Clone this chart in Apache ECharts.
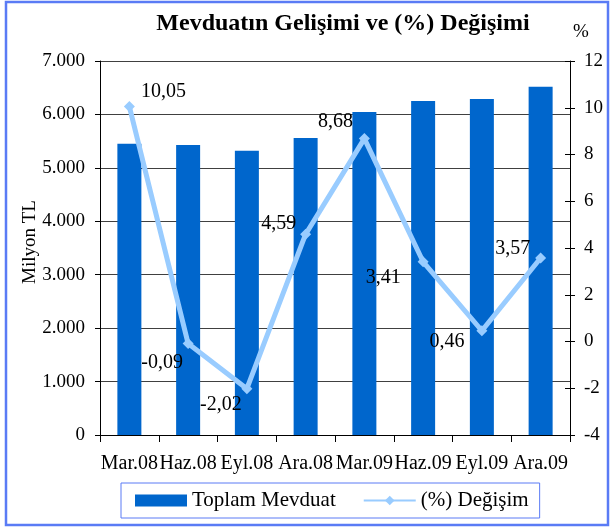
<!DOCTYPE html>
<html>
<head>
<meta charset="utf-8">
<script src="https://cdn.jsdelivr.net/npm/echarts@6/dist/echarts.min.js"></script>
<style>
html,body{margin:0;padding:0;background:#fff;}
#c{width:614px;height:528px;}
</style>
</head>
<body>
<div id="c"></div>
<script>
var categories = ['Mar.08','Haz.08','Eyl.08','Ara.08','Mar.09','Haz.09','Eyl.09','Ara.09'];
var toplamMevduat = [5450, 5430, 5320, 5560, 6045, 6250, 6290, 6520];
var degisim = [10.05, -0.09, -2.02, 4.59, 8.68, 3.41, 0.46, 3.57];
var leftTicks = {min: 0, max: 7000, interval: 1000};
var rightTicks = {min: -4, max: 12, interval: 2};

var labelOffsets = [[34,-15],[-26,19],[-26,16],[-27,-10],[-29,-17],[-40,16],[-35,11],[-28,-9]];

var FONT = '"Liberation Serif", "Times New Roman", serif';
var BORDER = '#5a7bf5';

function fmtThousands(v){
  var s = String(Math.round(v));
  return s.replace(/\B(?=(\d{3})+(?!\d))/g, '.');
}

var chart = echarts.init(document.getElementById('c'), null, {renderer:'canvas'});
var option = {
  backgroundColor: '#fff',
  animation: false,
  textStyle: {fontFamily: FONT, color: '#000'},
  title: [
    {text: 'Mevduatın Gelişimi ve (%) Değişimi', left: 338, top: 7, textAlign: 'center',
     textStyle: {fontFamily: FONT, fontWeight: 'bold', fontSize: 24, color: '#000'}},
    {text: '%', left: 576, top: 18, textAlign: 'center',
     textStyle: {fontFamily: FONT, fontWeight: 'normal', fontSize: 19, color: '#000'}}
  ],
  graphic: [
    {type: 'rect', shape: {x: 6, y: 2, width: 602, height: 523},
     style: {fill: 'none', stroke: BORDER, lineWidth: 2.5}, silent: true, z: 100}
  ],
  legend: {
    left: 121, top: 483,
    padding: [7, 11, 7, 14],
    itemGap: 27,
    itemWidth: 52, itemHeight: 12,
    borderColor: BORDER, borderWidth: 1,
    textStyle: {fontFamily: FONT, fontSize: 21, color: '#000'},
    data: [{name: 'Toplam Mevduat', icon: 'rect'}, {name: '(%) Değişim'}]
  },
  grid: {left: 100, right: 44, top: 61, bottom: 93, containLabel: false},
  xAxis: {
    type: 'category', data: categories,
    boundaryGap: true,
    axisLine: {show: true, lineStyle: {color: '#000', width: 1}},
    axisTick: {show: true, length: 7, lineStyle: {color: '#000'}},
    axisLabel: {fontFamily: FONT, fontSize: 20, color: '#000', margin: 19, interval: 0}
  },
  yAxis: [
    {type: 'value', position: 'left', min: leftTicks.min, max: leftTicks.max, interval: leftTicks.interval,
     name: 'Milyon TL', nameLocation: 'middle', nameGap: 60, nameRotate: 90, nameMoveOverlap: false,
     nameTextStyle: {fontFamily: FONT, fontSize: 19, color: '#000', padding: [0, 0, 0, 12]},
     axisLine: {show: true, lineStyle: {color: '#000'}},
     axisTick: {show: true, length: 5, lineStyle: {color: '#000'}},
     splitLine: {show: true, lineStyle: {color: '#404040', width: 1}},
     axisLabel: {fontFamily: FONT, fontSize: 19, color: '#000', margin: 15,
       formatter: function(v){ return fmtThousands(v); }}},
    {type: 'value', position: 'right', min: rightTicks.min, max: rightTicks.max, interval: rightTicks.interval,
     axisLine: {show: true, lineStyle: {color: '#000'}},
     axisTick: {show: true, length: 5, lineStyle: {color: '#000'}},
     splitLine: {show: false},
     axisLabel: {fontFamily: FONT, fontSize: 19, color: '#000', margin: 14}},
    {type: 'value', position: 'right', min: rightTicks.min, max: rightTicks.max, interval: rightTicks.interval,
     axisLine: {show: false},
     axisTick: {show: true, inside: true, length: 5, lineStyle: {color: '#000'}},
     splitLine: {show: false},
     axisLabel: {show: false}}
  ],
  series: [
    {name: 'Toplam Mevduat', type: 'bar', yAxisIndex: 0, data: toplamMevduat,
     barWidth: 24, itemStyle: {color: '#0066cc'}, z: 2},
    {name: '(%) Değişim', type: 'line', yAxisIndex: 1, z: 5,
     data: degisim.map(function(v, i){
       return {value: v, label: {offset: labelOffsets[i]}};
     }),
     symbol: 'diamond', symbolSize: 11,
     lineStyle: {color: '#99ccff', width: 5},
     itemStyle: {color: '#99ccff'},
     label: {show: true, position: 'inside', align: 'center', verticalAlign: 'middle',
       fontFamily: FONT, fontSize: 20, color: '#000',
       formatter: function(p){ return p.value.toFixed(2).replace('.', ','); }}}
  ]
};
chart.setOption(option);
</script>
</body>
</html>
